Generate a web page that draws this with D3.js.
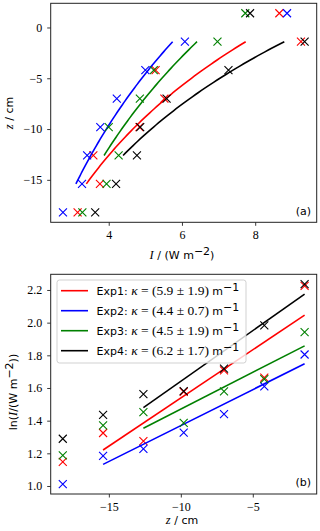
<!DOCTYPE html>
<html>
<head>
<meta charset="utf-8">
<script src="https://d3js.org/d3.v7.min.js"></script>
<style>
body { margin: 0; background: #fff; }
.tick text { font-family: "Liberation Serif", serif; font-size: 12px; fill: #000; }
.tick line { stroke: #222; stroke-width: 0.9; }
.sans { font-family: "DejaVu Sans", sans-serif; font-size: 11px; fill: #000; }
.serif { font-family: "Liberation Serif", serif; font-size: 12.5px; }
.legend .serif { font-size: 13.5px; }
</style>
</head>
<body>
<script>
var width = 320, height = 531;

// depth of each measurement (cm)
var depth = [-18.2, -15.4, -12.6, -9.8, -7.0, -4.2, -1.4, 1.4];
// irradiance I (W m^-2) for every experiment
var exp1 = [3.15, 3.76, 3.58, 4.84, 5.52, 5.28, 9.25, 8.66];
var exp2 = [2.75, 3.27, 3.41, 3.77, 4.22, 5.00, 6.08, 8.87];
var exp3 = [3.28, 3.94, 4.27, 4.00, 4.85, 5.23, 6.97, 7.73];
var exp4 = [3.63, 4.20, 4.77, 4.86, 5.58, 7.27, 9.35, 7.86];
var series = [exp1, exp2, exp3, exp4];

var names = ["Exp1", "Exp2", "Exp3", "Exp4"];
var colors = ["red", "blue", "green", "black"];
// fit: ln I = fitLn0 + kappa * z
var kappa = [5.9, 4.4, 4.5, 6.2];
var kappaErr = [1.9, 0.7, 1.9, 1.7];
var fitLn0 = [2.129, 1.81, 1.921, 2.261];
var fitFrom = [-15.4, -15.4, -12.6, -12.6];
var fitTo = -1.4;

var ticksIa = [4, 6, 8];
var ticksZa = [0, -5, -10, -15];
var ticksZb = [-15, -10, -5];
var ticksLnb = [1.0, 1.2, 1.4, 1.6, 1.8, 2.0, 2.2];

var svg = d3.select("body").append("svg")
	.attr("width", width)
	.attr("height", height);

var left = 50.7, right = 316.7;

// ---------- panel (a)
var xa = d3.scaleLinear().domain([2.415, 9.68]).range([left, right]);
var ya = d3.scaleLinear().domain([-19.18, 2.38]).range([222.3, 3.3]);

var ga = svg.append("g");
ga.append("g").attr("transform", "translate(0,222.3)")
	.call(d3.axisBottom(xa).tickValues(ticksIa).tickFormat(d3.format("d")).tickSize(3.5).tickPadding(4.5))
	.call(function(g){ g.select(".domain").remove(); });
ga.append("g").attr("transform", "translate(" + left + ",0)")
	.call(d3.axisLeft(ya).tickValues(ticksZa).tickFormat(d3.format("d")).tickSize(3.5).tickPadding(5))
	.call(function(g){ g.select(".domain").remove(); });

function cross(g, x, y, c) {
	var s = 4;
	g.append("path")
		.attr("d", "M" + (x-s) + "," + (y-s) + "L" + (x+s) + "," + (y+s) + "M" + (x-s) + "," + (y+s) + "L" + (x+s) + "," + (y-s))
		.attr("stroke", c)
		.attr("stroke-width", 1.1)
		.attr("fill", "none");
}

series.forEach(function(s, k) {
	var zs = d3.range(fitFrom[k], fitTo + 0.001, 0.2);
	ga.append("path")
		.datum(zs)
		.attr("d", d3.line()
			.x(function(z){ return xa(Math.exp(fitLn0[k] + kappa[k] * z / 100)); })
			.y(function(z){ return ya(z); }))
		.attr("fill", "none")
		.attr("stroke", colors[k])
		.attr("stroke-width", 1.6);
	s.forEach(function(v, i) { cross(ga, xa(v), ya(depth[i]), colors[k]); });
});

ga.append("rect")
	.attr("x", left).attr("y", 3.3)
	.attr("width", right - left).attr("height", 222.3 - 3.3)
	.attr("fill", "none").attr("stroke", "#222").attr("stroke-width", 1);

ga.append("text").attr("class", "sans").attr("x", 311).attr("y", 214.5)
	.attr("text-anchor", "end").text("(a)");

var la = ga.append("text").attr("x", 182).attr("y", 259).attr("text-anchor", "middle");
la.append("tspan").attr("class", "serif").attr("font-style", "italic").text("I");
la.append("tspan").attr("class", "sans").text(" / (W m");
la.append("tspan").attr("class", "sans").attr("font-size", "8px").attr("dy", -4).text("−2");
la.append("tspan").attr("class", "sans").attr("dy", 4).text(")");

var lya = ga.append("text").attr("transform", "translate(13,113) rotate(-90)").attr("text-anchor", "middle");
lya.append("tspan").attr("class", "serif").attr("font-style", "italic").text("z");
lya.append("tspan").attr("class", "sans").text(" / cm");

// ---------- panel (b)
var xb = d3.scaleLinear().domain([-19.04, -0.56]).range([left, right]);
var yb = d3.scaleLinear().domain([0.951, 2.296]).range([494, 274.3]);

var gb = svg.append("g");
gb.append("g").attr("transform", "translate(0,494)")
	.call(d3.axisBottom(xb).tickValues(ticksZb).tickFormat(d3.format("d")).tickSize(3.5).tickPadding(4.5))
	.call(function(g){ g.select(".domain").remove(); });
gb.append("g").attr("transform", "translate(" + left + ",0)")
	.call(d3.axisLeft(yb).tickValues(ticksLnb).tickFormat(d3.format(".1f")).tickSize(3.5).tickPadding(5))
	.call(function(g){ g.select(".domain").remove(); });

series.forEach(function(s, k) {
	s.forEach(function(v, i) {
		if (depth[i] < 0) cross(gb, xb(depth[i]), yb(Math.log(v)), colors[k]);
	});
	gb.append("line")
		.attr("x1", xb(fitFrom[k])).attr("y1", yb(fitLn0[k] + kappa[k] * fitFrom[k] / 100))
		.attr("x2", xb(fitTo)).attr("y2", yb(fitLn0[k] + kappa[k] * fitTo / 100))
		.attr("stroke", colors[k])
		.attr("stroke-width", 1.6);
});

// legend
var lg = gb.append("g").attr("class", "legend");
lg.append("rect")
	.attr("x", 57).attr("y", 280).attr("width", 189).attr("height", 83)
	.attr("rx", 2.5)
	.attr("fill", "white").attr("fill-opacity", 0.8)
	.attr("stroke", "#ccc").attr("stroke-width", 0.9);
names.forEach(function(n, k) {
	var y = 290.7 + k * 20;
	lg.append("line").attr("x1", 61).attr("x2", 88).attr("y1", y).attr("y2", y)
		.attr("stroke", colors[k]).attr("stroke-width", 1.6);
	var t = lg.append("text").attr("x", 96.5).attr("y", y + 4);
	t.append("tspan").attr("class", "sans").text(n + ": ");
	t.append("tspan").attr("class", "serif").attr("font-style", "italic").text("κ");
	t.append("tspan").attr("class", "serif").text(" = (" + kappa[k].toFixed(1) + " ± " + kappaErr[k].toFixed(1) + ") ");
	t.append("tspan").attr("class", "sans").text("m");
	t.append("tspan").attr("class", "sans").attr("font-size", "8px").attr("dy", -4).text("−1");
});

gb.append("rect")
	.attr("x", left).attr("y", 274.3)
	.attr("width", right - left).attr("height", 494 - 274.3)
	.attr("fill", "none").attr("stroke", "#222").attr("stroke-width", 1);

gb.append("text").attr("class", "sans").attr("x", 311).attr("y", 486.3)
	.attr("text-anchor", "end").text("(b)");

var lb = gb.append("text").attr("x", 182).attr("y", 524).attr("text-anchor", "middle");
lb.append("tspan").attr("class", "serif").attr("font-style", "italic").text("z");
lb.append("tspan").attr("class", "sans").text(" / cm");

var lyb = gb.append("text").attr("transform", "translate(17,392) rotate(-90)").attr("text-anchor", "middle");
lyb.append("tspan").attr("class", "sans").text("ln(");
lyb.append("tspan").attr("class", "serif").attr("font-style", "italic").text("I");
lyb.append("tspan").attr("class", "sans").text("/(W m");
lyb.append("tspan").attr("class", "sans").attr("font-size", "8px").attr("dy", -4).text("−2");
lyb.append("tspan").attr("class", "sans").attr("dy", 4).text("))");
</script>
</body>
</html>
